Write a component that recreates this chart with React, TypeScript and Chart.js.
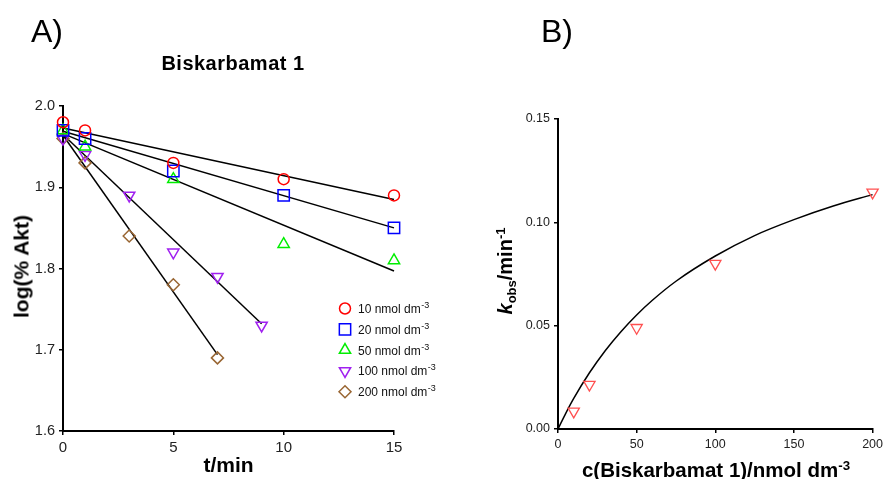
import React, { useEffect, useRef } from 'react';
import { Chart, registerables } from 'chart.js';

Chart.register(...registerables);

const FONT = "'Liberation Sans', Arial, Helvetica, sans-serif";

// ---------- Panel A data: log(% Akt) vs t/min ----------
const concLabels = ['10', '20', '50', '100', '200'];
const seriesColors = ['#ff0000', '#0000ff', '#00ee00', '#a020f0', '#996633'];
const seriesStyles = ['circle', 'rect', 'triangle', 'triangle', 'rectRot'];
const seriesRotation = [0, 0, 0, 180, 0];
const seriesRadius = [5.5, 8, 6.5, 6.5, 6];

const t10 = [0, 1, 5, 10, 15];
const v10 = [1.98, 1.97, 1.93, 1.91, 1.89];
const t20 = [0, 1, 5, 10, 15];
const v20 = [1.97, 1.96, 1.92, 1.89, 1.85];
const t50 = [0, 1, 5, 10, 15];
const v50 = [1.97, 1.95, 1.91, 1.83, 1.81];
const t100 = [0, 1, 3, 5, 7, 9];
const v100 = [1.96, 1.94, 1.89, 1.82, 1.79, 1.73];
const t200 = [0, 1, 3, 5, 7];
const v200 = [1.96, 1.93, 1.84, 1.78, 1.69];

// fitted straight lines (start / end)
const fitT10 = [0, 15];
const fitV10 = [1.973, 1.885];
const fitT20 = [0, 15];
const fitV20 = [1.969, 1.85];
const fitT50 = [0, 15];
const fitV50 = [1.966, 1.797];
const fitT100 = [0, 9];
const fitV100 = [1.965, 1.732];
const fitT200 = [0, 7];
const fitV200 = [1.964, 1.694];

const xTicksA = [0, 5, 10, 15];
const yTicksA = [1.6, 1.7, 1.8, 1.9, 2.0];

// ---------- Panel B data: k_obs vs c ----------
const concB = [10, 20, 50, 100, 200];
const kobsB = [0.0085, 0.0215, 0.049, 0.08, 0.1145];
const curveC = [0, 5, 10, 20, 30, 40, 50, 60, 75, 100, 125, 150, 175, 200];
const curveK = [0, 0.0077, 0.0148, 0.0272, 0.0379, 0.0471, 0.0552, 0.0623, 0.0715, 0.0837, 0.0936, 0.1013, 0.1079, 0.1134];
const xTicksB = [0, 50, 100, 150, 200];
const yTicksB = [0, 0.05, 0.1, 0.15];

const pts = (xs: number[], ys: number[]) => xs.map((x, i) => ({ x, y: ys[i] }));

function markerPath(ctx: CanvasRenderingContext2D, style: string, x: number, y: number, r: number, rot: number) {
  ctx.beginPath();
  if (style === 'circle') {
    ctx.arc(x, y, r, 0, Math.PI * 2);
  } else if (style === 'rect') {
    const s = r * Math.SQRT1_2;
    ctx.rect(x - s, y - s, 2 * s, 2 * s);
  } else if (style === 'triangle') {
    let a = (rot * Math.PI) / 180;
    for (let i = 0; i < 3; i++) {
      const px = x + Math.sin(a) * r;
      const py = y - Math.cos(a) * r;
      if (i === 0) ctx.moveTo(px, py);
      else ctx.lineTo(px, py);
      a += (2 * Math.PI) / 3;
    }
    ctx.closePath();
  } else {
    ctx.moveTo(x - r, y);
    ctx.lineTo(x, y - r);
    ctx.lineTo(x + r, y);
    ctx.lineTo(x, y + r);
    ctx.closePath();
  }
}

const legendPlugin = {
  id: 'concLegend',
  afterDraw(chart: any) {
    const ctx: CanvasRenderingContext2D = chart.ctx;
    const mx = 345;
    const tx = 358;
    const y0 = 308.5;
    const dy = 20.8;
    ctx.save();
    concLabels.forEach((lab, i) => {
      const y = y0 + i * dy;
      ctx.strokeStyle = seriesColors[i];
      ctx.lineWidth = 1.5;
      markerPath(ctx, seriesStyles[i], mx, y, seriesRadius[i], seriesRotation[i]);
      ctx.stroke();
      ctx.fillStyle = '#111';
      ctx.font = `12px ${FONT}`;
      ctx.textBaseline = 'alphabetic';
      const main = `${lab} nmol dm`;
      ctx.fillText(main, tx, y + 4.5);
      const w = ctx.measureText(main).width;
      ctx.font = `9px ${FONT}`;
      ctx.fillText('-3', tx + w + 0.5, y - 0.5);
    });
    ctx.restore();
  },
};

function axisCommon(min: number, max: number, ticks: number[], digits: number, size: number, fixed: (s: any) => void) {
  return {
    type: 'linear' as const,
    min,
    max,
    afterBuildTicks: (scale: any) => {
      scale.ticks = ticks.map((v) => ({ value: v }));
    },
    afterFit: fixed,
    border: { display: true, color: '#000', width: 2 },
    grid: { display: true, drawOnChartArea: false, drawTicks: true, tickLength: 4, color: '#000', lineWidth: 1.5 },
    ticks: {
      color: '#222',
      padding: 4,
      font: { family: FONT, size },
      callback: (v: any) => Number(v).toFixed(digits),
    },
  };
}

function PanelA() {
  const ref = useRef<HTMLCanvasElement>(null);
  useEffect(() => {
    if (!ref.current) return;
    const xs = [t10, t20, t50, t100, t200];
    const vs = [v10, v20, v50, v100, v200];
    const fx = [fitT10, fitT20, fitT50, fitT100, fitT200];
    const fv = [fitV10, fitV20, fitV50, fitV100, fitV200];
    const datasets: any[] = [];
    fx.forEach((f, i) => {
      datasets.push({
        data: pts(f, fv[i]),
        showLine: true,
        borderColor: '#000',
        borderWidth: 1.5,
        pointRadius: 0,
        order: 5,
        clip: false,
      });
    });
    xs.forEach((x, i) => {
      datasets.push({
        label: `${concLabels[i]} nmol dm-3`,
        data: pts(x, vs[i]),
        showLine: false,
        pointStyle: seriesStyles[i],
        pointRotation: seriesRotation[i],
        pointRadius: seriesRadius[i],
        borderColor: seriesColors[i],
        pointBorderColor: seriesColors[i],
        backgroundColor: 'rgba(0,0,0,0)',
        pointBackgroundColor: 'rgba(0,0,0,0)',
        borderWidth: 1.5,
        pointBorderWidth: 1.5,
        order: 1,
        clip: false,
      });
    });
    const chart = new Chart(ref.current, {
      type: 'scatter',
      data: { datasets },
      options: {
        responsive: false,
        animation: false,
        events: [],
        layout: { padding: { left: 0, right: 56, top: 106, bottom: 18 } },
        plugins: { legend: { display: false }, tooltip: { enabled: false } },
        scales: {
          x: axisCommon(0, 15, xTicksA, 0, 15, (s: any) => { s.height = 30; }),
          y: axisCommon(1.6, 2.0, yTicksA, 1, 14.5, (s: any) => { s.width = 63; }),
        },
      } as any,
      plugins: [legendPlugin],
    });
    return () => chart.destroy();
  }, []);
  return <canvas ref={ref} width={450} height={479} style={{ position: 'absolute', left: 0, top: 0 }} />;
}

function PanelB() {
  const ref = useRef<HTMLCanvasElement>(null);
  useEffect(() => {
    if (!ref.current) return;
    const chart = new Chart(ref.current, {
      type: 'scatter',
      data: {
        datasets: [
          {
            data: pts(curveC, curveK),
            showLine: true,
            borderColor: '#000',
            borderWidth: 1.5,
            pointRadius: 0,
            cubicInterpolationMode: 'monotone',
            order: 5,
            clip: false,
          } as any,
          {
            data: pts(concB, kobsB),
            showLine: false,
            pointStyle: 'triangle',
            pointRotation: 180,
            pointRadius: 6.5,
            borderColor: '#ff5050',
            pointBorderColor: '#ff5050',
            pointBackgroundColor: 'rgba(0,0,0,0)',
            backgroundColor: 'rgba(0,0,0,0)',
            borderWidth: 1.3,
            pointBorderWidth: 1.3,
            order: 1,
            clip: false,
          } as any,
        ],
      },
      options: {
        responsive: false,
        animation: false,
        events: [],
        layout: { padding: { left: 0, right: 13, top: 119, bottom: 20 } },
        plugins: { legend: { display: false }, tooltip: { enabled: false } },
        scales: {
          x: axisCommon(0, 200, xTicksB, 0, 12.5, (s: any) => { s.height = 30; }),
          y: axisCommon(0, 0.15, yTicksB, 2, 12.5, (s: any) => { s.width = 108; }),
        },
      } as any,
    });
    return () => chart.destroy();
  }, []);
  return <canvas ref={ref} width={437} height={479} style={{ position: 'absolute', left: 450, top: 0 }} />;
}

const sup: React.CSSProperties = { fontSize: '0.65em', position: 'relative', top: '-0.55em' };
const sub: React.CSSProperties = { fontSize: '0.65em', position: 'relative', top: '0.28em' };

function Label(props: { cx: number; baseline: number; size: number; bold?: boolean; ls?: number; children: any }) {
  const { cx, baseline, size, bold, ls, children } = props;
  return (
    <div
      style={{
        position: 'absolute',
        left: cx - 200,
        width: 400,
        top: baseline - 0.8465 * size,
        fontSize: size,
        lineHeight: `${size}px`,
        fontWeight: bold ? 'bold' : 'normal',
        letterSpacing: ls || 0,
        textAlign: 'center',
        whiteSpace: 'nowrap',
        color: '#000',
        fontFamily: FONT,
      }}
    >
      {children}
    </div>
  );
}

function VLabel(props: { cx: number; cy: number; size: number; children: any }) {
  const { cx, cy, size, children } = props;
  return (
    <div
      style={{
        position: 'absolute',
        left: cx - 150,
        top: cy - size / 2,
        width: 300,
        height: size,
        fontSize: size,
        lineHeight: `${size}px`,
        fontWeight: 'bold',
        textAlign: 'center',
        whiteSpace: 'nowrap',
        transform: 'rotate(-90deg)',
        transformOrigin: '50% 50%',
        color: '#000',
        fontFamily: FONT,
      }}
    >
      {children}
    </div>
  );
}

export default function App() {
  return (
    <div
      style={{
        position: 'fixed',
        left: 0,
        top: 0,
        width: 887,
        height: 479,
        overflow: 'hidden',
        background: '#fff',
        fontFamily: FONT,
      }}
    >
      <PanelA />
      <PanelB />
      <div style={{ position: 'absolute', left: 31, top: 41.7 - 0.8465 * 32, fontSize: 32, lineHeight: '32px', fontFamily: FONT }}>A)</div>
      <div style={{ position: 'absolute', left: 541, top: 41.7 - 0.8465 * 32, fontSize: 32, lineHeight: '32px', fontFamily: FONT }}>B)</div>
      <Label cx={233} baseline={70} size={20} bold ls={0.5}>Biskarbamat 1</Label>
      <Label cx={228.5} baseline={471.5} size={21} bold>t/min</Label>
      <Label cx={716} baseline={477.5} size={20.5} bold>
        c(Biskarbamat 1)/nmol dm<span style={sup}>-3</span>
      </Label>
      <VLabel cx={20.7} cy={266} size={21}>log(% Akt)</VLabel>
      <VLabel cx={505} cy={271} size={20}>
        <span style={{ fontStyle: 'italic' }}>k</span>
        <span style={sub}>obs</span>/min<span style={sup}>-1</span>
      </VLabel>
    </div>
  );
}
